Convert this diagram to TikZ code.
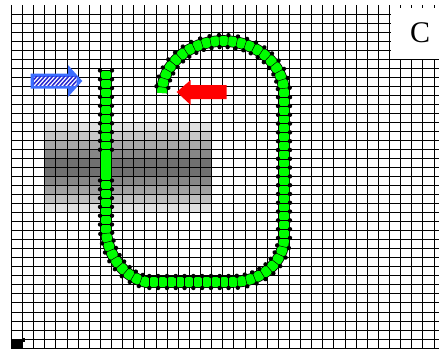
\documentclass[tikz,border=0pt]{standalone}
\usepackage{fontspec}
\setmainfont{Liberation Serif}
\usetikzlibrary{decorations.markings}
\definecolor{trackgreen}{RGB}{0,255,0}
\definecolor{arrowblue}{RGB}{60,110,255}
\definecolor{stripeblue}{RGB}{40,40,210}
\definecolor{arrowred}{RGB}{255,0,0}
\tikzset{
  gridline/.style={black,line width=1.4pt},
  trackedge/.style={black,line width=11.6pt},
  trackbody/.style={trackgreen,line width=10pt},
  linkline/.style={black,line width=0.5pt},
  linkdot/.style={fill=black},
}
\newcommand{\trackpath}{(106,70.5) -- (106,228)
  .. controls (106,250) and (120,276) .. (146,282) -- (232,282)
  .. controls (262,282) and (284,262) .. (284,238) -- (284,93)
  arc[start angle=0,end angle=-180,x radius=61,y radius=52]}
\newcommand{\tracklink}{%
  \draw[linkline] (0,-5.6) -- (0,5.6);
  \fill[linkdot] (0,-6) circle (2.2pt);
  \fill[linkdot] (0,6) circle (2.2pt);}

\begin{document}
\begin{tikzpicture}[x=1pt,y=-1pt]
  \useasboundingbox (0,0) rectangle (439,348);
  \clip (0,0) rectangle (439,348);
  \foreach \g [count=\k from 13] in {12,22,34,47,56,56,47,37,25,12}
    \fill[black!\g] (44.9,{5+9.03*\k}) rectangle (211.7,{5+9.03*(\k+1)});
  \foreach \i in {0,...,38}
    \draw[gridline] ({floor(11.5+11.12*\i)+0.5},5) -- ({floor(11.5+11.12*\i)+0.5},349);
  \foreach \j in {1,...,38}
    \draw[gridline] (11,{floor(5+9.03*\j)+0.5}) -- (440,{floor(5+9.03*\j)+0.5});
  \fill[white] (390.8,7.5) rectangle (440,58.5);
  \node[font=\fontsize{30}{30}\selectfont,inner sep=0pt] (lbl) at (420,33) {C};
  \fill[black] (11,340) rectangle (22.7,349);
  \fill[black] (22.7,337.7) rectangle (25,341.7);
  \fill[arrowblue] (30.7,73.5) -- (68,73.5) -- (68,65) -- (82.3,81)
    -- (68,97) -- (68,88.5) -- (30.7,88.5) -- cycle;
  \begin{scope}
    \clip (33.5,76.5) rectangle (76.5,85.5);
    \fill[white] (33.5,76.5) rectangle (76.5,85.5);
    \foreach \s in {24,28,...,80}
      \draw[stripeblue,line width=1.5pt] (\s,86) -- ({\s+9},76);
  \end{scope}
  \fill[arrowred] (226.7,85) -- (190.7,85) -- (190.7,80) -- (176.7,92)
    -- (190.7,105) -- (190.7,99) -- (226.7,99) -- cycle;
  \draw[trackedge] \trackpath;
  \draw[trackbody] \trackpath;
  \path[decorate,decoration={markings,
      mark=between positions 0pt and 80pt step 8.8pt with {\tracklink},
      mark=between positions 110pt and 1 step 8.8pt with {\tracklink}}]
    \trackpath;
\end{tikzpicture}
\end{document}
